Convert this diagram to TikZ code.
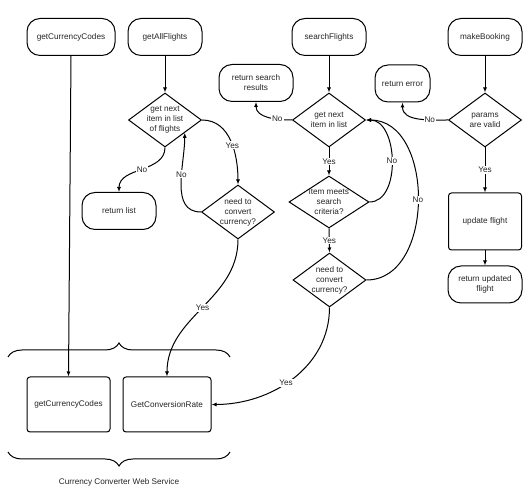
\documentclass[tikz,border=0pt]{standalone}
\usepackage{fontspec}
\setmainfont{Liberation Sans}
\usetikzlibrary{shapes.geometric,decorations.pathreplacing,arrows.meta}

\begin{document}
\begin{tikzpicture}[x=1pt,y=1pt,
  every node/.style={font=\fontsize{8.2}{10}\selectfont, text=textColor},
  term/.style={draw=drawColor, line width=1pt, rounded corners=13pt, minimum width=74pt, minimum height=37pt, align=center, inner sep=2pt},
  proc/.style={draw=drawColor, line width=1pt, rounded corners=3pt, minimum width=73pt, minimum height=57pt, align=center},
  dia/.style={diamond, draw=drawColor, line width=1pt, inner sep=-4pt, minimum width=73pt, minimum height=54pt, align=center},
  lab/.style={fill=white, inner sep=1pt},
  arr/.style={draw=drawColor, line width=1pt, -{Latex[length=5pt,width=4pt]}},
  brc/.style={draw=drawColor, line width=1pt, decorate, decoration={brace, amplitude=14pt}}]
\definecolor{drawColor}{RGB}{0,0,0}
\definecolor{textColor}{gray}{0.15}
\path[use as bounding box,fill=white] (0,0) rectangle (528,500);

\node[term, minimum width=88pt] (tCodes) at ( 71, 463) {getCurrencyCodes};

\node[term] (tAll) at (165, 463) {getAllFlights};

\node[term] (tSearch) at (329, 463) {searchFlights};

\node[term] (tBook) at (485, 463) {makeBooking};

\node[term] (rResults) at (256, 417) {return search\\results};

\node[term, minimum width=55pt] (rError) at (402.5, 416.5) {return error};

\node[term] (rList) at (119, 289) {return list};

\node[term] (rUpdated) at (485, 215.5) {return updated\\flight};

\node[dia] (dAll1) at (165, 380) {get next\\item in list\\of flights};

\node[dia] (dAll2) at (238, 288) {need to\\convert\\currency?};

\node[dia] (dS1) at (329, 380) {get next\\item in list};

\node[dia, minimum width=80pt, minimum height=52pt] (dS2) at (329, 298) {item meets\\search\\criteria?};

\node[dia] (dS3) at (329.5, 220) {need to\\convert\\currency?};

\node[dia] (dBook) at (485, 380) {params\\are valid};

\node[proc] (pUpdate) at (485, 278.5) {update flight};

\node[proc, minimum width=83pt, minimum height=55pt] (bCodes) at ( 68.5, 95.5) {getCurrencyCodes};

\node[proc, minimum width=88pt, minimum height=55pt] (bRate) at (167, 95.5) {GetConversionRate};

\node (wsName) at (119, 18) {Currency Converter Web Service};

\coordinate (wsTopL) at (  8, 143);

\coordinate (wsTopR) at (230, 143);

\coordinate (wsBotL) at (  8,  48);

\coordinate (wsBotR) at (230,  48);

\path[brc] (wsTopL) -- (wsTopR);

\path[brc] (wsBotR) -- (wsBotL);

\path[arr] (tCodes.south) -- (bCodes.north);

\path[arr] (tAll.south) -- (dAll1.north);

\path[arr] (dAll1.south) to[out=-90,in=90] node[lab] {No} (rList.north);

\path[arr] (dAll1.east) to[out=0,in=90] node[lab, pos=0.55] {Yes} (dAll2.north);

\path[arr] (dAll2.west) to[out=180,in=-90] node[lab, pos=0.6] {No} (dAll1.-33);

\path[arr] (dAll2.south) to[out=-90,in=90] node[lab] {Yes} (bRate.north);

\path[arr] (tSearch.south) -- (dS1.north);

\path[arr] (dS1.west) to[out=180,in=-90] node[lab, pos=0.3] {No} (rResults.south);

\path[arr] (dS1.south) -- node[lab] {Yes} (dS2.north);

\path[arr] (dS2.east) to[out=0,in=0] node[lab] {No} (dS1.east);

\path[arr] (dS2.south) -- node[lab] {Yes} (dS3.north);

\path[arr] (dS3.east) to[out=0,in=0, looseness=1.1] node[lab] {No} (dS1.east);

\path[arr] (dS3.south) to[out=-90,in=0] node[lab, pos=0.55] {Yes} (bRate.east);

\path[arr] (tBook.south) -- (dBook.north);

\path[arr] (dBook.west) to[out=180,in=-90] node[lab, pos=0.3] {No} (rError.south);

\path[arr] (dBook.south) -- node[lab] {Yes} (pUpdate.north);

\path[arr] (pUpdate.south) -- (rUpdated.north);
\end{tikzpicture}
\end{document}
